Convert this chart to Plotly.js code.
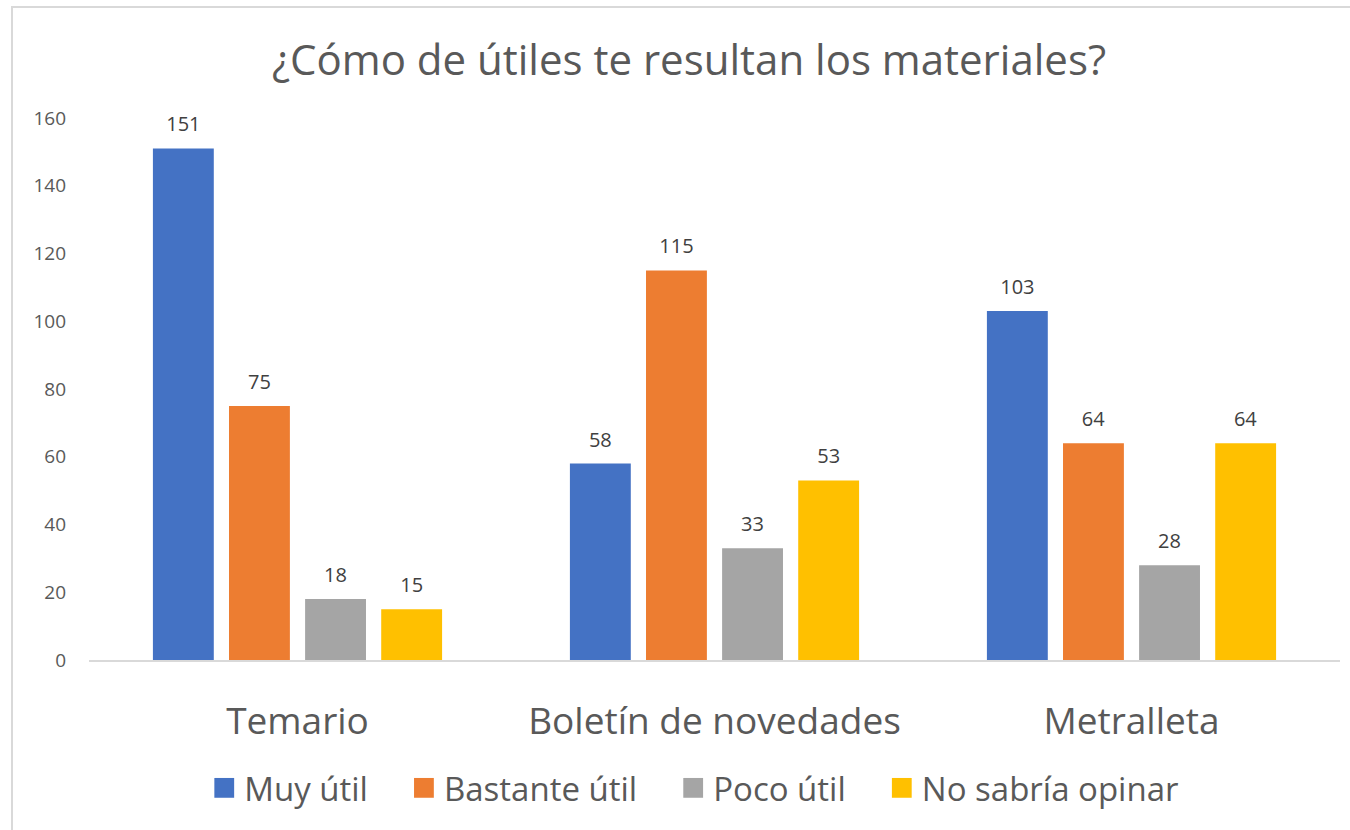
<!DOCTYPE html>
<html>
<head>
<meta charset="utf-8">
<script src="https://cdn.plot.ly/plotly-3.0.1.min.js"></script>
<style>
body{margin:0;background:#fff;}
#wrap{position:relative;width:1350px;height:830px;}
#chart{position:absolute;left:0;top:0;width:1350px;height:830px;}
#frame{position:absolute;left:11px;top:6px;width:1339px;height:824px;border-left:2px solid #d9d9d9;border-top:2px solid #d9d9d9;pointer-events:none;}
</style>
</head>
<body>
<div id="wrap"><div id="chart"></div><div id="frame"></div></div>
<script>
const categories = ["Temario", "Boletín de novedades", "Metralleta"];
const seriesNames = ["Muy útil", "Bastante útil", "Poco útil", "No sabría opinar"];
const muyUtil = [151, 58, 103];
const bastanteUtil = [75, 115, 64];
const pocoUtil = [18, 33, 28];
const noSabria = [15, 53, 64];
const yTicks = [0, 20, 40, 60, 80, 100, 120, 140, 160];

const colors = ["#4472C4", "#ED7D31", "#A5A5A5", "#FFC000"];
const seriesValues = [muyUtil, bastanteUtil, pocoUtil, noSabria];
const font = "'Open Sans', 'Noto Sans', sans-serif";

const traces = seriesValues.map((vals, i) => ({
  type: "bar",
  name: seriesNames[i],
  x: categories,
  y: vals,
  marker: {color: colors[i]},
  text: vals.map(String),
  textposition: "outside",
  constraintext: "none",
  cliponaxis: false,
  textfont: {family: font, size: 20, color: "#404040"},
  hoverinfo: "x+y+name"
}));

const layout = {
  width: 1350, height: 830,
  paper_bgcolor: "#ffffff", plot_bgcolor: "#ffffff",
  margin: {l: 89, r: 10, t: 118, b: 170},
  title: {text: "¿Cómo de útiles te resultan los materiales?", x: 689/1350, xanchor: "center", y: 1 - 60/830, yanchor: "middle",
          font: {family: font, size: 42, color: "#595959"}},
  barmode: "group",
  bargap: 0.27,
  bargroupgap: 0.2,
  showlegend: true,
  legend: {orientation: "h", x: 0.497, xanchor: "center", y: -0.236, yanchor: "middle",
           font: {family: font, size: 33, color: "#595959"}, itemwidth: 30},
  xaxis: {type: "category", showgrid: false, showline: true, linecolor: "#d9d9d9", linewidth: 2,
          ticks: "", ticklabelstandoff: 28, tickfont: {family: font, size: 37, color: "#595959"}, zeroline: false},
  yaxis: {range: [0, 160], tickvals: yTicks, ticktext: yTicks.map(String), showgrid: false, zeroline: false,
          showline: false, ticks: "", ticklabelstandoff: 22, tickfont: {family: font, size: 19, color: "#595959"}}
};

Plotly.newPlot("chart", traces, layout, {displayModeBar: false, staticPlot: true}).then(gd => {
  gd.querySelectorAll(".legend [clip-path]").forEach(e => e.removeAttribute("clip-path"));
  gd.querySelectorAll(".legendpoints path").forEach(p => {
    const t = p.getAttribute("transform") || "";
    p.setAttribute("transform", t + " scale(1.65)");
  });
  gd.querySelectorAll(".legend .traces").forEach((g, i) => {
    const t = g.getAttribute("transform") || "";
    g.setAttribute("transform", t + " translate(" + (i * 31 - 63) + ",0)");
  });
  gd.querySelectorAll(".bartext").forEach(tx => {
    const t = tx.getAttribute("transform") || "";
    tx.setAttribute("transform", "translate(0,-8) " + t);
  });
});
</script>
</body>
</html>
